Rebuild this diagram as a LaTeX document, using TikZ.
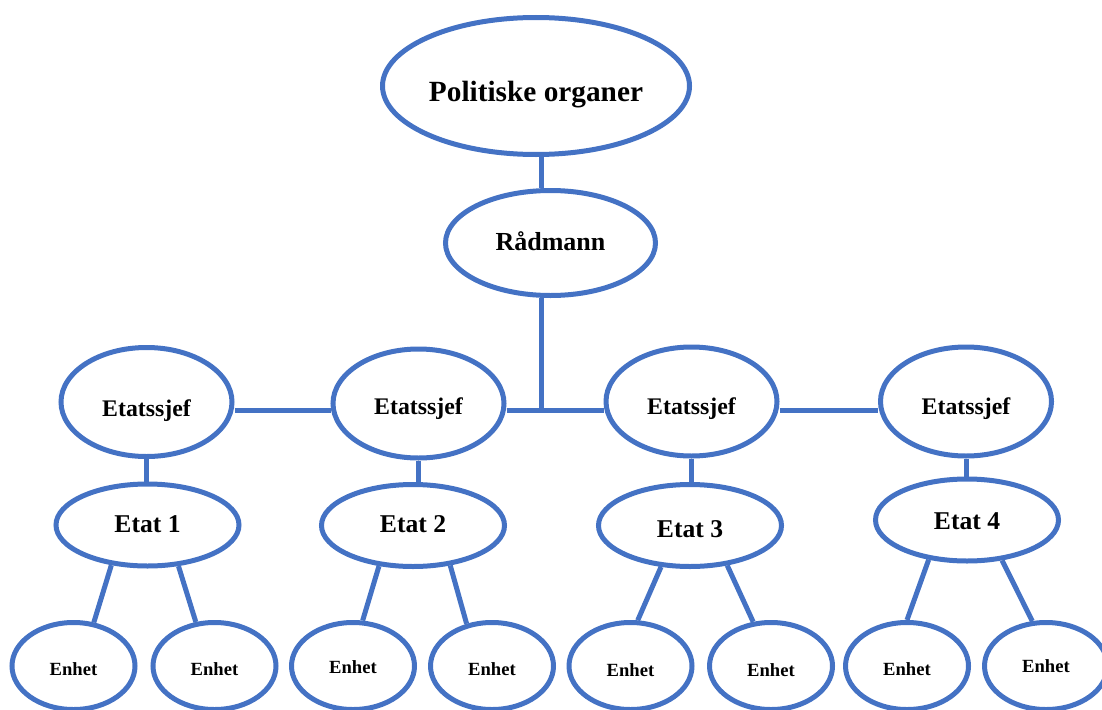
\documentclass[tikz,border=0pt]{standalone}
\usepackage{fontspec}
\setmainfont{Liberation Serif}
\usetikzlibrary{shapes.geometric}
\definecolor{orgblue}{HTML}{4472C4}
\begin{document}
\begin{tikzpicture}[x=1pt,y=-1pt,
  unit/.style={ellipse, draw=orgblue, line width=5pt, inner sep=0pt, text depth=0pt},
  toporg/.style={unit, minimum width=307pt, minimum height=137pt, font=\bfseries\fontsize{29.3}{32}\selectfont},
  chief/.style={unit, minimum width=210pt, minimum height=105pt, font=\bfseries\fontsize{26}{30}\selectfont},
  head/.style={unit, minimum width=171pt, minimum height=109pt, font=\bfseries\fontsize{23.8}{28}\selectfont},
  etat/.style={unit, minimum width=183pt, minimum height=82pt, font=\bfseries\fontsize{25.6}{30}\selectfont},
  enhet/.style={unit, minimum width=123pt, minimum height=87pt, font=\bfseries\fontsize{18.6}{22}\selectfont},
  link/.style={draw=orgblue, line width=5pt}]
\useasboundingbox (0,0) rectangle (1102,709);
\clip (0,0) rectangle (1102,709);

% top of the organisation
\node[toporg, text height=31pt] (pol) at (536,86) {Politiske organer};
\node[chief, text height=14pt] (rad) at (550.5,243) {Rådmann};

% heads of the departments
\node[head, text height=28pt] (es1) at (146.5,402) {Etatssjef};
\node[head, text height=21pt] (es2) at (418.5,403.5) {Etatssjef};
\node[head, text height=25pt] (es3) at (691.5,401.5) {Etatssjef};
\node[head, text height=25pt] (es4) at (966,401.5) {Etatssjef};

% departments
\node[etat, text height=15pt] (et1) at (147.5,525) {Etat 1};
\node[etat, text height=14pt] (et2) at (413,525.5) {Etat 2};
\node[etat, text height=23.6pt] (et3) at (690,525.5) {Etat 3};
\node[etat, text height=18pt] (et4) at (967,520) {Etat 4};

% units
\node[enhet, text height=18.6pt] (en1a) at (73.5,666) {Enhet};
\node[enhet, text height=18.6pt] (en1b) at (214.5,666) {Enhet};
\node[enhet, text height=14.6pt] (en2a) at (353,666) {Enhet};
\node[enhet, text height=18.6pt] (en2b) at (492,666) {Enhet};
\node[enhet, text height=21.4pt] (en3a) at (630.5,666) {Enhet};
\node[enhet, text height=21.4pt] (en3b) at (771,666) {Enhet};
\node[enhet, text height=18pt] (en4a) at (907,666) {Enhet};
\node[enhet, text height=13.4pt] (en4b) at (1046,666) {Enhet};

% trunk line and the bar across the heads
\coordinate (trunk) at (541,410);
\draw[link] (pol.south -| trunk) -- (rad.north -| trunk);
\draw[link] (rad.south -| trunk) -- (trunk);
\draw[link] (es1.east |- trunk) -- (es2.west |- trunk);
\draw[link] (es2.east |- trunk) -- (es3.west |- trunk);
\draw[link] (es3.east |- trunk) -- (es4.west |- trunk);

% heads to departments
\draw[link] (es1.south) -- (es1.south |- et1.north);
\draw[link] (es2.south) -- (es2.south |- et2.north);
\draw[link] (es3.south) -- (es3.south |- et3.north);
\draw[link] (es4.south) -- (es4.south |- et4.north);

% departments to units
\draw[link] (et1.228) -- (en1a.65);
\draw[link] (et1.307) -- (en1b.113);
\draw[link] (et2.230) -- (en2a.78);
\draw[link] (et2.313) -- (en2b.121);
\draw[link] (et3.235) -- (en3a.81);
\draw[link] (et3.313) -- (en3b.112);
\draw[link] (et4.226) -- (en4a.90);
\draw[link] (et4.311) -- (en4b.107);
\end{tikzpicture}
\end{document}
